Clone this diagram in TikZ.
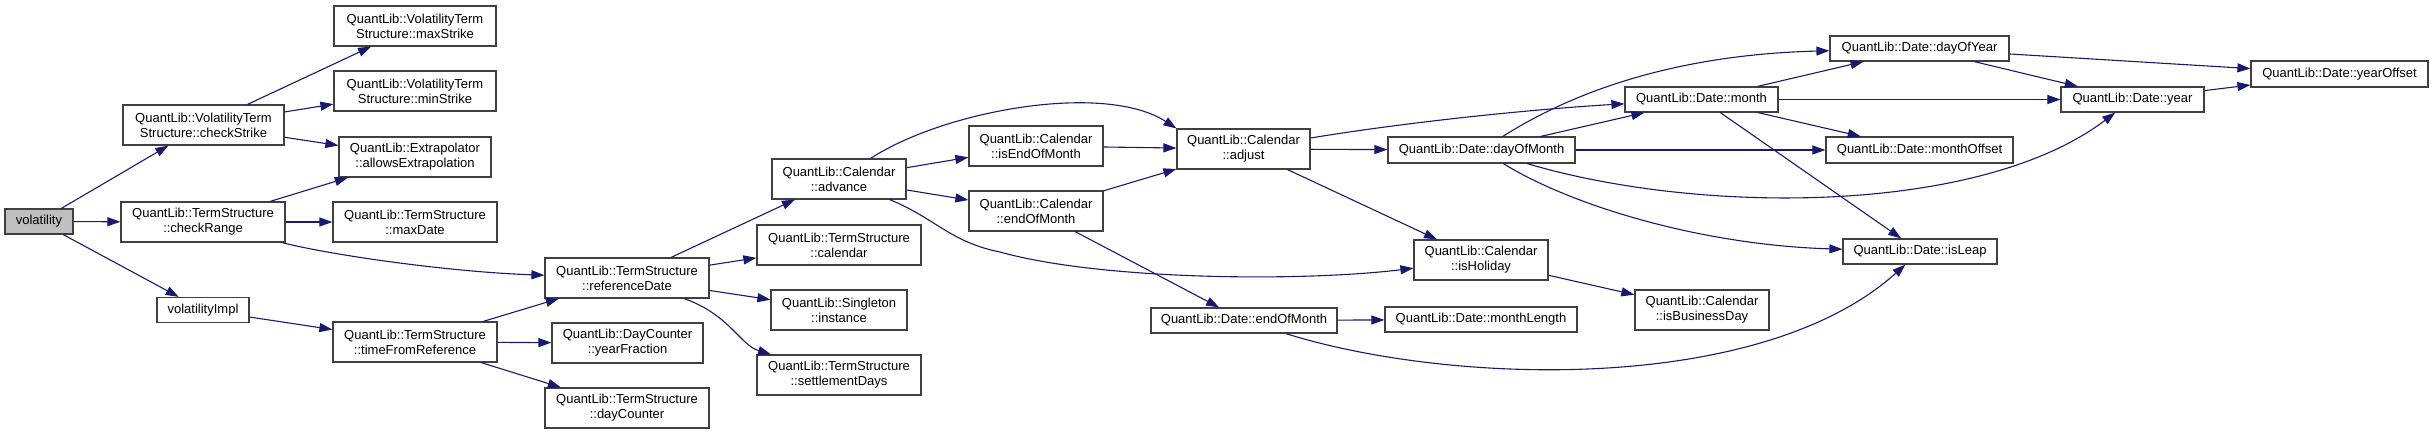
\documentclass[tikz,border=0pt]{standalone}
\usepackage{fontspec}
\setmainfont{Liberation Sans}
\usepackage{tikz}
\usetikzlibrary{arrows.meta}
\definecolor{cgEdge}{HTML}{191970}
\definecolor{cgRoot}{HTML}{BFBFBF}
\definecolor{cgLine}{HTML}{404040}
\tikzset{
  fnnode/.style={
    draw=cgLine, line width=0.6pt, fill=white, inner sep=0pt,
    minimum height=20pt, font=\fontsize{6.5}{7.5}\selectfont, align=center
  },
  fnone/.style={fnnode, minimum height=12.5pt},
  fnroot/.style={fnone, fill=cgRoot},
  call/.style={-{Triangle[length=6.5pt, width=4.5pt]}, line width=0.55pt, cgEdge}
}

\begin{document}
\begin{tikzpicture}[x=0.5pt, y=-0.5pt]
  \useasboundingbox (0,0) rectangle (2433,435);
  % first ranks
  \node[fnroot, minimum width=34pt] (vol) at (39,221.5) {volatility};
  \node[fnnode, minimum width=80.5pt] (chkStrike) at (203.5,125) {QuantLib::VolatilityTerm\\Structure::checkStrike};
  \node[fnnode, minimum width=82pt] (chkRange) at (203,222) {QuantLib::TermStructure\\::checkRange};
  \node[fnone, minimum width=46pt] (volImpl) at (203,310) {volatilityImpl};
  \node[fnnode, minimum width=81pt] (maxStrike) at (415,26) {QuantLib::VolatilityTerm\\Structure::maxStrike};
  \node[fnnode, minimum width=81pt] (minStrike) at (415,91) {QuantLib::VolatilityTerm\\Structure::minStrike};
  \node[fnnode, minimum width=76pt] (allowExtra) at (415,157) {QuantLib::Extrapolator\\::allowsExtrapolation};
  \node[fnnode, minimum width=82pt] (maxDate) at (415,222) {QuantLib::TermStructure\\::maxDate};
  \node[fnnode, minimum width=82pt] (tFromRef) at (415,342) {QuantLib::TermStructure\\::timeFromReference};
  \node[fnnode, minimum width=82pt] (refDate) at (627,278) {QuantLib::TermStructure\\::referenceDate};
  \node[fnnode, minimum width=75.5pt] (yearFrac) at (627.5,343) {QuantLib::DayCounter\\::yearFraction};
  \node[fnnode, minimum width=82pt] (dayCnt) at (627,408) {QuantLib::TermStructure\\::dayCounter};
  \node[fnnode, minimum width=67pt] (advance) at (839,179) {QuantLib::Calendar\\::advance};
  \node[fnnode, minimum width=82pt] (calendar) at (839,245) {QuantLib::TermStructure\\::calendar};
  \node[fnnode, minimum width=68pt] (instance) at (839,310) {QuantLib::Singleton\\::instance};
  \node[fnnode, minimum width=82pt] (settleDays) at (839,375) {QuantLib::TermStructure\\::settlementDays};
  % calendar and date ranks
  \node[fnnode, minimum width=67pt] (isEoM) at (1036,146) {QuantLib::Calendar\\::isEndOfMonth};
  \node[fnnode, minimum width=67pt] (calEoM) at (1036,211) {QuantLib::Calendar\\::endOfMonth};
  \node[fnnode, minimum width=66.5pt] (adjust) at (1243.5,149) {QuantLib::Calendar\\::adjust};
  \node[fnone, minimum width=93pt] (dateEoM) at (1244,320.5) {QuantLib::Date::endOfMonth};
  \node[fnone, minimum width=93.5pt, minimum height=13pt] (dayOfMonth) at (1481.5,150) {QuantLib::Date::dayOfMonth};
  \node[fnnode, minimum width=67pt] (isHoliday) at (1481,260) {QuantLib::Calendar\\::isHoliday};
  \node[fnone, minimum width=96pt] (monthLen) at (1481,319.5) {QuantLib::Date::monthLength};
  \node[fnone, minimum width=76.5pt] (month) at (1701.5,99.5) {QuantLib::Date::month};
  \node[fnnode, minimum width=67pt] (isBizDay) at (1702,310) {QuantLib::Calendar\\::isBusinessDay};
  \node[fnone, minimum width=89.5pt] (dayOfYear) at (1919.5,48.5) {QuantLib::Date::dayOfYear};
  \node[fnone, minimum width=93.5pt, minimum height=13pt] (monthOff) at (1919.5,150) {QuantLib::Date::monthOffset};
  \node[fnone, minimum width=77pt] (isLeap) at (1920,251.5) {QuantLib::Date::isLeap};
  \node[fnone, minimum width=71.5pt] (year) at (2132.5,99.5) {QuantLib::Date::year};
  \node[fnone, minimum width=88.5pt, minimum height=13pt] (yearOff) at (2339.5,74) {QuantLib::Date::yearOffset};
  % straight calls
  \foreach \s/\e in {vol/chkStrike, vol/chkRange, vol/volImpl,
    chkStrike/maxStrike, chkStrike/minStrike, chkStrike/allowExtra,
    chkRange/allowExtra, chkRange/maxDate, volImpl/tFromRef,
    tFromRef/refDate, tFromRef/yearFrac, tFromRef/dayCnt,
    refDate/advance, refDate/calendar, refDate/instance,
    advance/isEoM, advance/calEoM, isEoM/adjust, calEoM/adjust, calEoM/dateEoM,
    adjust/dayOfMonth, adjust/isHoliday, dateEoM/monthLen, isHoliday/isBizDay,
    dayOfMonth/month, dayOfMonth/monthOff, month/dayOfYear, month/year,
    month/monthOff, month/isLeap, dayOfYear/yearOff, dayOfYear/year, year/yearOff}
    {\draw[call] (\s) -- (\e);}
  % curved calls
  \draw[call] (chkRange) .. controls (330,255) and (450,272) .. (refDate);
  \draw[call] (refDate) .. controls (730,315) and (740,345) .. (settleDays);
  \draw[call] (advance) .. controls (945,110) and (1105,82) .. (adjust.north west);
  \draw[call] (advance) .. controls (935,218) and (950,242) .. (1000,252)
    .. controls (1100,280) and (1300,282) .. (isHoliday);
  \draw[call] (adjust) .. controls (1420,120) and (1550,108) .. (month);
  \draw[call] (dateEoM) .. controls (1450,385) and (1760,395) .. (isLeap);
  \draw[call] (dayOfMonth) .. controls (1560,100) and (1660,55) .. (dayOfYear);
  \draw[call] (dayOfMonth) .. controls (1700,215) and (1980,215) .. (year);
  \draw[call] (dayOfMonth) .. controls (1570,205) and (1700,245) .. (isLeap);
\end{tikzpicture}
\end{document}
